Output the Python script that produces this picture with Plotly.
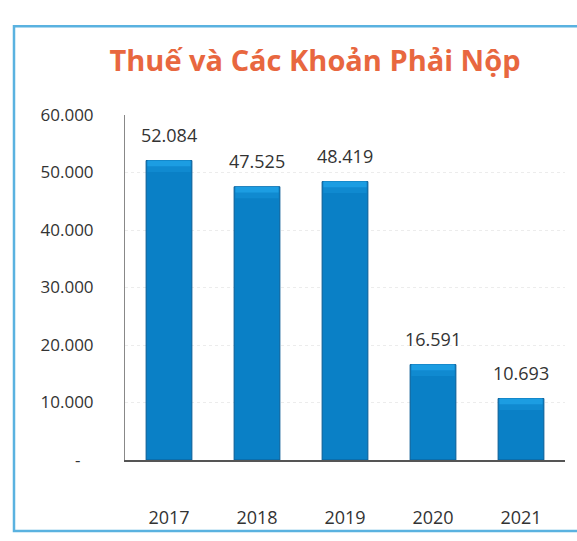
import plotly.graph_objects as go

# Data
years = ["2017", "2018", "2019", "2020", "2021"]
values = [52084, 47525, 48419, 16591, 10693]
value_labels = ["52.084", "47.525", "48.419", "16.591", "10.693"]
ytick_vals = [0, 10000, 20000, 30000, 40000, 50000, 60000]
ytick_text = ["-\u00a0\u00a0\u00a0", "10.000", "20.000", "30.000", "40.000", "50.000", "60.000"]

title_text = "Thuế và Các Khoản Phải Nộp"

W, H = 577, 541
L, R, T, B = 125, 12, 115, 76
FONT = "Open Sans, sans-serif"

fig = go.Figure()

# Main bars
fig.add_trace(go.Bar(
    x=years, y=values,
    marker=dict(color="#0a80c6", line=dict(color="#0a5c94", width=1)),
    width=0.52,
    hoverinfo="skip",
    showlegend=False,
))

# Soft lighter band near the top of each bar
band = 2000
fig.add_trace(go.Bar(
    x=years, y=[band] * len(values),
    base=[v - band for v in values],
    marker=dict(color="#108ad0", line=dict(width=0)),
    width=0.49,
    hoverinfo="skip",
    showlegend=False,
))
cap = 1000
fig.add_trace(go.Bar(
    x=years, y=[cap] * len(values),
    base=[v - cap for v in values],
    marker=dict(color="#1c9de2", line=dict(width=0)),
    width=0.49,
    hoverinfo="skip",
    showlegend=False,
))

# Value labels above bars
for i, (v, lab) in enumerate(zip(values, value_labels)):
    fig.add_annotation(
        x=i, y=v, text=lab, showarrow=False,
        xref="x", yref="y",
        yanchor="bottom", yshift=12,
        font=dict(family=FONT, size=18, color="#333333"),
    )

pw = W - L - R
ph = H - T - B

# Outer light-blue frame
fig.add_shape(
    type="rect", xref="paper", yref="paper",
    x0=(14 - L) / pw, x1=(W + 10 - L) / pw,
    y0=(H - B - 537) / ph, y1=(H - B - 25) / ph,
    line=dict(color="#5ab2e0", width=2.5),
    fillcolor="rgba(0,0,0,0)",
    layer="below",
)

fig.update_layout(
    width=W, height=H,
    margin=dict(l=L, r=R, t=T, b=B),
    paper_bgcolor="white",
    plot_bgcolor="white",
    barmode="overlay",
    title=dict(
        text="<b>" + title_text + "</b>",
        x=315 / W, xanchor="center",
        y=1 - 61 / H, yanchor="middle",
        font=dict(family=FONT, size=29, color="#e8673f"),
    ),
    xaxis=dict(
        type="category",
        categoryorder="array", categoryarray=years,
        range=[-0.5, len(years) - 0.5],
        showline=True, linecolor="#555555", linewidth=1.5,
        ticks="", showgrid=False,
        ticklabelstandoff=41,
        tickfont=dict(family=FONT, size=18, color="#333333"),
    ),
    yaxis=dict(
        range=[0, 60000],
        tickvals=ytick_vals, ticktext=ytick_text,
        showline=True, linecolor="#888888", linewidth=1,
        ticks="",
        showgrid=True, gridcolor="#ececec", griddash="dot", gridwidth=1,
        zeroline=False,
        ticklabelstandoff=27,
        tickfont=dict(family=FONT, size=17, color="#333333"),
    ),
)

fig.write_html("out.html")
